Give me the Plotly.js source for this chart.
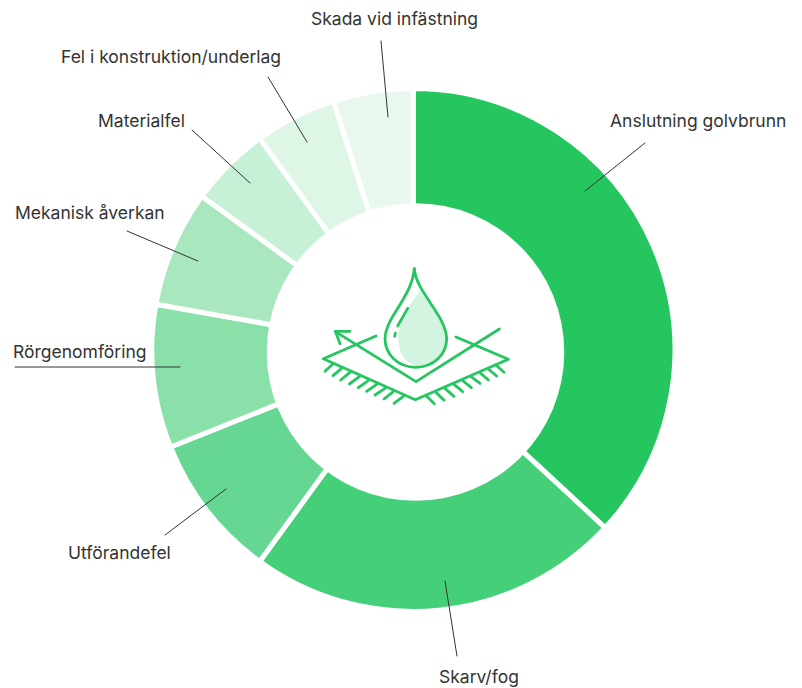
<!DOCTYPE html>
<html>
<head>
<meta charset="utf-8">
<script src="https://cdn.plot.ly/plotly-3.0.1.min.js"></script>
<style>
html,body{margin:0;padding:0;background:#fff}
#chart .shapelayer path{stroke-linecap:round;stroke-linejoin:round}
</style>
</head>
<body>
<div id="chart" style="width:802px;height:688px"></div>
<script>
const categories = ["Anslutning golvbrunn","Skarv/fog","Utförandefel","Rörgenomföring","Mekanisk åverkan","Materialfel","Fel i konstruktion/underlag","Skada vid infästning"];
const shares = [36.9,23.1,8.95,8.85,7.2,5,5.05,4.95];
const sliceColors = ["#25C660","#45CF78","#66D792","#89E0A9","#A9E8BF","#C7F1D6","#DDF6E6","#E8F8EE"];

const W = 802, H = 688;
const cx = 413.4, cy = 350, R = 261.5, innerR = 142;
const holeCx = 415.5, holeCy = 352, holeR = 148.8;

const labelPos = [[698,121],[479,676],[119,552],[80,351],[90,212],[141,121],[171,56],[394,18]];
const leaders = [[645,143,585,191],[457,656,445,581],[165,535,226,489],[15,367,180,367],[127,231,198,261],[192,130,250,183],[268,77,307,142],[381,41,388,117]];

const px = x => x / W;
const py = y => 1 - y / H;

// icon geometry is traced in a 3x zoom space, anchored at (310,255)
const ix = x => (310 + x / 3) / W;
const iy = y => 1 - (255 + y / 3) / H;
function iconPath(cmds){
  return cmds.map(c => c[0] + c.slice(1).map((v,i) => i % 2 === 0 ? ix(v) : iy(v)).join(",")).join(" ");
}
const iconGreen = "#25C660";
const dropOutline = [["M",313,40],["C",316,85,350,125,375,165],["C",395,195,410,225,410,250],["C",410,300,370,337,317,337],["C",265,337,225,300,225,250],["C",225,225,240,195,260,165],["C",285,125,310,85,313,40],["Z"]];
const dropFill = [["M",330,107],["C",345,130,360,145,375,168],["C",395,198,408,225,408,250],["C",408,300,370,333,322,333],["C",285,325,262,290,265,240],["C",270,190,305,140,330,107],["Z"]];
const iconLines = [
  [[293,160],[263,213]],
  [[256,234],[254,244]],
  [[120,229],[76,229],[90,266]],
  [[76,230],[318,380],[568,222]],
  [[198,243],[40,311],[316,434],[595,313],[438,246]],
  [[68,328],[45,349]],[[95,340],[69,362]],[[120,352],[92,375]],[[148,365],[118,387]],[[175,377],[145,398]],
  [[200,388],[170,409]],[[225,400],[195,420]],[[250,410],[222,432]],[[280,424],[252,445]],
  [[350,424],[373,446]],[[378,412],[402,436]],[[405,400],[432,424]],[[432,388],[458,410]],[[458,377],[484,398]],
  [[483,365],[510,385]],[[510,353],[535,375]],[[535,342],[560,363]],[[558,330],[582,352]]
];

const shapes = [];
shapes.push({type:"circle",xref:"paper",yref:"paper",x0:px(holeCx-holeR),x1:px(holeCx+holeR),y0:py(holeCy+holeR),y1:py(holeCy-holeR),fillcolor:"#ffffff",line:{width:0}});
leaders.forEach(l => shapes.push({type:"line",xref:"paper",yref:"paper",x0:px(l[0]),y0:py(l[1]),x1:px(l[2]),y1:py(l[3]),line:{color:"#333333",width:1}}));
shapes.push({type:"path",xref:"paper",yref:"paper",path:iconPath(dropFill),fillcolor:"#D3F4E0",line:{width:0}});
shapes.push({type:"path",xref:"paper",yref:"paper",path:iconPath(dropOutline),fillcolor:"rgba(0,0,0,0)",line:{color:iconGreen,width:2.8}});
iconLines.forEach(pts => shapes.push({type:"path",xref:"paper",yref:"paper",
  path:iconPath(pts.map((p,i)=>[i?"L":"M",p[0],p[1]])),fillcolor:"rgba(0,0,0,0)",line:{color:iconGreen,width:2.8}}));

const annotations = categories.map((c,i)=>({
  text:c,xref:"paper",yref:"paper",x:px(labelPos[i][0]),y:py(labelPos[i][1]),
  xanchor:"center",yanchor:"middle",showarrow:false,
  font:{family:"Inter, sans-serif",size:17.5,color:"#333333"}
}));

Plotly.newPlot("chart",[{
  type:"pie",labels:categories,values:shares,sort:false,direction:"clockwise",rotation:0,
  hole:innerR/R,textinfo:"none",hoverinfo:"label+percent",
  marker:{colors:sliceColors,line:{color:"#ffffff",width:5}},
  domain:{x:[(cx-R)/W,(cx+R)/W],y:[1-(cy+R)/H,1-(cy-R)/H]}
}],{
  width:W,height:H,margin:{l:0,r:0,t:0,b:0,pad:0},
  paper_bgcolor:"#ffffff",plot_bgcolor:"#ffffff",showlegend:false,
  shapes,annotations
},{displayModeBar:false,staticPlot:true});
</script>
</body>
</html>
